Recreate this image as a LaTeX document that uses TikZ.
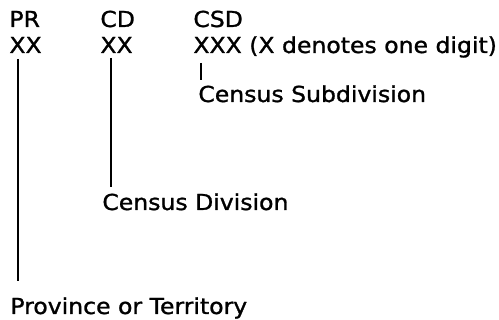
\documentclass[tikz,border=0pt]{standalone}
\usepackage{fontspec}
\setmainfont{DejaVu Sans}[FakeStretch=1.07,FakeBold=1.2]
\usepackage{tikz}

\begin{document}
\begin{tikzpicture}
	[%%%%%%%%%%%%%%%%%%%%%%%%%%%%%%
	x=0.5pt,y=-0.5pt,
	lbl/.style={anchor=base west,inner sep=0pt,font=\fontsize{11}{13}\selectfont},
	tick/.style={draw=black,line width=1.1pt},
	]%%%%%%%%%%%%%%%%%%%%%%%%%%%%%%
	
	\useasboundingbox (0,0) rectangle (499,320);
	
	\node[lbl] (prhead) at (9,27) {PR};
	\node[lbl] (cdhead) at (100,27) {CD};
	\node[lbl] (csdhead) at (193,27) {CSD};
	\node[lbl] (prcode) at (9,53) {XX};
	\node[lbl] (cdcode) at (100,53) {XX};
	\node[lbl] (csdcode) at (193,53) {XXX (X denotes one digit)};
	
	\node[lbl] (csdname) at (198,102) {Census Subdivision};
	\node[lbl] (cdname) at (102,210) {Census Division};
	\node[lbl] (prname) at (10,314) {Province or Territory};
	
	\coordinate (prtop) at (18,59);
	\coordinate (cdtop) at (111,58);
	\coordinate (csdtop) at (201,63);
	\draw[tick] (prtop) -- ([yshift=8pt]prtop |- prname.north);
	\draw[tick] (cdtop) -- ([yshift=3pt]cdtop |- cdname.north);
	\draw[tick] (csdtop) -- ([yshift=2.5pt]csdtop |- csdname.north);
	
\end{tikzpicture}
\end{document}
